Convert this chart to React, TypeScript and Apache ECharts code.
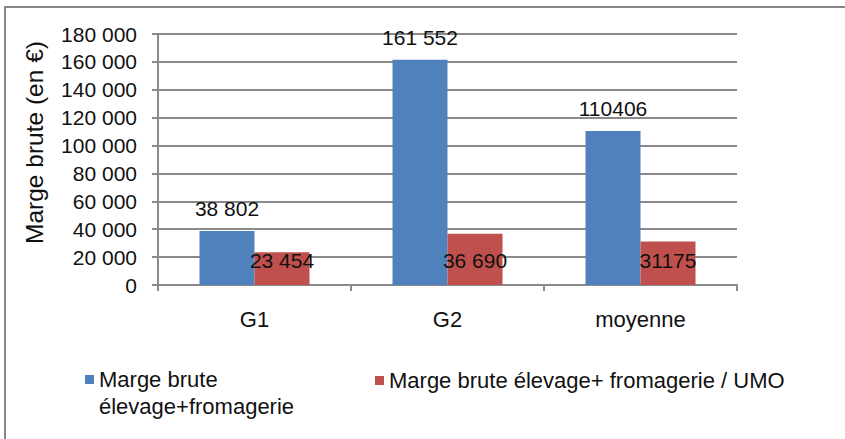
import React, { useEffect, useRef } from "react";
import * as echarts from "echarts";

const categories = ["G1", "G2", "moyenne"];
const seriesNames = [
  "Marge brute élevage+fromagerie",
  "Marge brute élevage+ fromagerie / UMO",
];
const margeBrute = [38802, 161552, 110406];
const margeBruteUMO = [23454, 36690, 31175];
const margeBruteLabels = ["38 802", "161 552", "110406"];
const margeBruteUMOLabels = ["23 454", "36 690", "31175"];
const yAxisName = "Marge brute (en €)";

const FONT = "Liberation Sans, Arial, sans-serif";
const TEXT = "#111";
const GRID = "#8a8a8a";

function fmt(v: number): string {
  return String(v).replace(/\B(?=(\d{3})+(?!\d))/g, " ");
}

export default function App() {
  const ref = useRef<HTMLDivElement>(null);
  useEffect(() => {
    if (!ref.current) return;
    const chart = echarts.init(ref.current, null, { renderer: "svg" });
    chart.setOption({
      animation: false,
      backgroundColor: "#fff",
      textStyle: { fontFamily: FONT },
      graphic: [
        {
          type: "rect",
          shape: { x: 5, y: 7, width: 900, height: 500 },
          style: { fill: "none", stroke: "#868686", lineWidth: 2 },
          silent: true,
        },
      ],
      grid: { left: 158, right: 108, top: 34, bottom: 154 },
      legend: [
        {
          data: [seriesNames[0]],
          left: 80,
          top: 334,
          itemWidth: 9,
          itemHeight: 9,
          icon: "rect",
          formatter: () => "\nMarge brute\nélevage+fromagerie",
          textStyle: {
            fontFamily: FONT,
            fontSize: 22,
            color: TEXT,
            lineHeight: 27,
          },
        },
        {
          data: [seriesNames[1]],
          left: 370,
          top: 362,
          itemWidth: 9,
          itemHeight: 9,
          icon: "rect",
          textStyle: { fontFamily: FONT, fontSize: 22, color: TEXT, lineHeight: 27 },
        },
      ],
      xAxis: {
        type: "category",
        data: categories,
        axisLine: { show: true, lineStyle: { color: GRID, width: 2 } },
        axisTick: { show: true, length: 6, alignWithLabel: false, lineStyle: { color: GRID, width: 2 } },
        axisLabel: { fontFamily: FONT, fontSize: 22, color: TEXT, margin: 23 },
      },
      yAxis: {
        type: "value",
        min: 0,
        max: 180000,
        interval: 20000,
        name: yAxisName,
        nameLocation: "middle",
        nameGap: 111,
        nameRotate: 90,
        nameTextStyle: { fontFamily: FONT, fontSize: 24.5, color: TEXT, padding: [0, 0, 0, 34] },
        axisLine: { show: true, lineStyle: { color: GRID, width: 2 } },
        axisTick: { show: true, length: 6, inside: false, lineStyle: { color: GRID, width: 2 } },
        splitLine: { show: true, lineStyle: { color: GRID, width: 2 } },
        axisLabel: {
          fontFamily: FONT,
          fontSize: 21,
          color: TEXT,
          margin: 21,
          formatter: (v: number) => fmt(v),
        },
      },
      series: [
        {
          name: seriesNames[0],
          type: "bar",
          data: margeBrute,
          barGap: "0%",
          barCategoryGap: "43%",
          itemStyle: { color: "#4F81BD" },
          label: {
            show: true,
            position: "top",
            distance: 12,
            fontFamily: FONT,
            fontSize: 21,
            color: TEXT,
            formatter: (p: any) => margeBruteLabels[p.dataIndex],
          },
        },
        {
          name: seriesNames[1],
          type: "bar",
          data: margeBruteUMO,
          barGap: "0%",
          barCategoryGap: "43%",
          itemStyle: { color: "#C0504D" },
          label: {
            show: true,
            position: "insideBottom",
            distance: 14,
            fontFamily: FONT,
            fontSize: 21,
            color: TEXT,
            formatter: (p: any) => margeBruteUMOLabels[p.dataIndex],
          },
        },
      ],
    });
    return () => chart.dispose();
  }, []);
  return <div ref={ref} style={{ width: 845, height: 439, position: "absolute", left: 0, top: 0 }} />;
}
